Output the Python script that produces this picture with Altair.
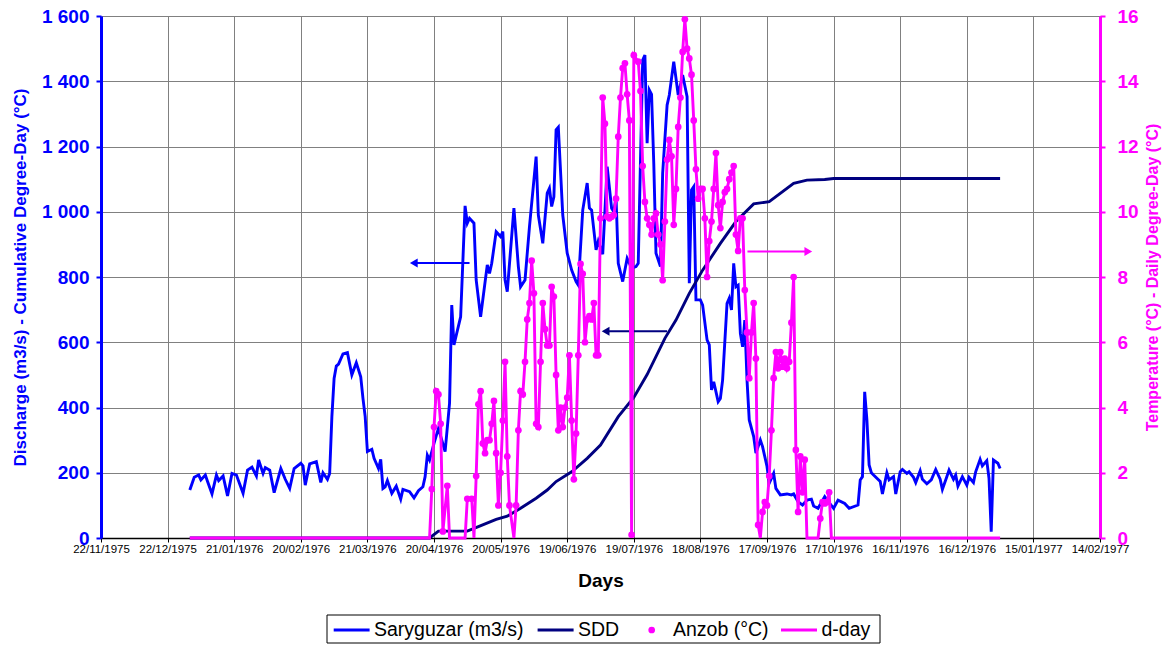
import altair as alt
import pandas as pd

# ---------------- data (day index within 1976, 0 = 01/01/1976) ----------------
sary_day = [0, 2, 4, 5, 7, 8, 10, 12, 13, 15, 17, 19, 21, 24, 26, 28, 30, 31, 33, 34, 36, 38, 41, 43, 45, 47,
            50, 51, 52, 54, 57, 59, 60, 62, 63, 64, 65, 66, 67, 69, 71, 73, 75, 77, 78, 79, 80, 82, 83, 85, 86,
            87, 88, 89, 91, 93, 95, 96, 99, 101, 103, 105, 106, 107, 108, 110, 112, 115, 117, 118, 119, 122, 124,
            125, 126, 128, 129, 131, 134, 135, 136, 138, 140, 141, 142, 143, 146, 148, 149, 151, 153, 156, 157,
            159, 161, 162, 163, 164, 165, 166, 168, 170, 172, 174, 175, 177, 179, 180, 181, 183, 184, 186, 188,
            190, 191, 192, 193, 195, 197, 199, 201, 202, 204, 205, 206, 207, 208, 209, 210, 212, 213, 215, 216,
            218, 220, 222, 224, 225, 226, 227, 228, 230, 231, 233, 234, 235, 236, 238, 239, 240, 242, 243, 244,
            245, 246, 247, 248, 249, 250, 251, 252, 254, 255, 257, 258, 260, 261, 263, 264, 266, 269, 271, 272,
            274, 276, 278, 280, 281, 283, 286, 288, 290, 292, 295, 297, 301, 302, 303, 304, 305, 306, 307, 308,
            311, 312, 314, 315, 317, 318, 320, 321, 323, 324, 326, 327, 329, 330, 332, 334, 336, 338, 339, 341,
            342, 344, 345, 346, 348, 350, 351, 353, 354, 356, 357, 359, 360, 361, 362, 364, 365]
sary_val = [147, 186, 193, 178, 193, 173, 135, 193, 176, 190, 129, 198, 193, 137, 208, 217, 190, 239, 198, 216,
            208, 139, 213, 180, 152, 213, 229, 221, 162, 227, 234, 170, 200, 180, 198, 372, 489, 527, 533, 564,
            568, 500, 537, 494, 428, 372, 265, 272, 244, 213, 241, 152, 157, 176, 137, 159, 119, 149, 142, 123,
            145, 157, 188, 254, 239, 290, 336, 265, 413, 714, 592, 678, 1018, 965, 980, 965, 791, 678, 837, 811,
            842, 939, 924, 939, 791, 755, 1011, 832, 770, 791, 954, 1169, 990, 903, 1057, 1072, 1016, 1046, 1251,
            1259, 990, 873, 821, 786, 775, 1005, 1088, 1011, 1005, 883, 910, 870, 1138, 1011, 1000, 1046, 842,
            786, 857, 827, 832, 842, 1465, 1480, 1210, 1373, 1360, 1148, 873, 832, 1118, 1327, 1358, 1460, 1358,
            1419, 1353, 781, 1067, 1077, 730, 730, 714, 607, 592, 454, 479, 418, 428, 484, 719, 735, 699, 842,
            770, 775, 627, 586, 668, 484, 362, 311, 260, 300, 280, 219, 168, 198, 152, 132, 135, 132, 135, 111,
            101, 116, 119, 98, 91, 127, 108, 91, 116, 106, 91, 101, 178, 188, 448, 362, 224, 200, 193, 173, 135,
            200, 178, 188, 135, 203, 210, 198, 203, 186, 170, 206, 180, 166, 178, 210, 180, 149, 188, 208, 180,
            193, 159, 188, 162, 186, 170, 203, 241, 221, 237, 183, 19, 239, 229, 213]

sdd_day = [0, 108, 112, 125, 130, 138, 143, 149, 156, 161, 165, 172, 179, 185, 193, 200, 206, 214, 219, 225,
           231, 239, 246, 254, 261, 272, 278, 286, 290, 365]
sdd_val = [0, 0, 21, 21, 35, 57, 67, 91, 122, 147, 173, 203, 244, 285, 372, 431, 501, 612, 668, 750, 821, 903,
           970, 1024, 1031, 1087, 1097, 1099, 1102, 1102]

anzob_day = [109, 110, 111, 112, 113, 114, 116, 125, 127, 129, 130, 131, 132, 133, 134, 135, 136, 137, 138, 139,
             140, 141, 142, 143, 144, 147, 148, 149, 150, 151, 152, 153, 154, 155, 156, 157, 158, 159, 160, 161,
             162, 163, 164, 165, 166, 167, 168, 169, 170, 171, 172, 173, 174, 175, 176, 177, 178, 179, 180, 181,
             182, 183, 184, 185, 186, 187, 188, 189, 190, 191, 192, 193, 194, 195, 196, 197, 198, 199, 200, 202,
             203, 204, 205, 206, 207, 208, 209, 210, 211, 212, 213, 214, 215, 216, 217, 218, 219, 220, 221, 222,
             223, 224, 225, 226, 227, 228, 229, 230, 231, 232, 233, 234, 235, 236, 237, 238, 239, 240, 241, 242,
             243, 244, 245, 246, 247, 248, 249, 250, 251, 252, 253, 254, 255, 256, 258, 259, 260, 261, 262, 263,
             264, 265, 266, 267, 268, 269, 270, 271, 272, 273, 274, 275, 276, 277, 284, 285, 286, 287, 288]
anzob_val = [1.5, 3.4, 4.5, 4.4, 3.5, 0.2, 1.6, 1.2, 1.2, 1.9, 4.1, 4.5, 2.9, 2.6, 3.0, 3.0, 3.5, 4.2, 2.6, 1.0,
             2.0, 3.6, 5.4, 2.5, 1.0, 1.0, 3.3, 4.5, 4.4, 5.4, 6.7, 7.2, 8.5, 7.5, 3.5, 3.4, 5.4, 7.2, 6.4, 5.9,
             5.9, 7.7, 7.4, 5.0, 3.3, 4.0, 3.4, 4.0, 4.3, 5.6, 3.6, 1.8, 3.2, 5.6, 8.4, 8.1, 6.0, 6.7, 6.8, 6.7,
             7.2, 5.6, 5.6, 9.8, 13.5, 12.7, 9.85, 9.8, 9.85, 9.9, 10.4, 12.3, 13.5, 14.4, 14.55, 13.6, 12.8, 0.1,
             14.8, 14.6, 13.7, 11.4, 10.3, 9.8, 9.6, 9.3, 9.8, 9.95, 9.3, 9.0, 7.9, 9.7, 11.6, 12.2, 11.7, 9.6,
             10.7, 12.6, 13.5, 14.9, 15.9, 15.0, 14.7, 14.2, 12.8, 11.3, 10.4, 10.7, 10.7, 9.8, 8.0, 9.1, 9.7,
             10.7, 11.8, 10.2, 9.5, 10.3, 10.6, 10.7, 11.0, 11.2, 11.4, 9.3, 8.8, 9.8, 9.8, 7.6, 6.3, 4.9, 6.3,
             7.2, 5.5, 0.4, 0.8, 1.1, 1.0, 1.9, 3.3, 4.9, 5.7, 5.2, 5.7, 5.25, 5.5, 5.2, 5.4, 6.6, 8.0, 2.7, 0.8,
             2.5, 1.4, 2.4, 0.6, 1.1, 1.06, 1.1, 1.4]

# days on which the daily degree-day is zero (temperature below zero)
dday_zero_day = [0, 108, 117, 124, 128, 146, 257, 278, 283, 289, 365]

x_tick_days = list(range(0, 451, 30))          # days after 22/11/1975
left_ticks = list(range(0, 1601, 200))
right_ticks = list(range(0, 17, 2))

# annotation arrows (day of 1976, value)
arrow_blue = {"tail": [126], "head": [100.9], "v": [843]}
arrow_navy = {"tail": [215], "head": [187.3], "v": [634]}
arrow_mag = {"tail": [251.2], "head": [278.6], "v": [8.78]}

OFFSET = 40  # 22/11/1975 -> 01/01/1976

BLUE = "#0000FF"
NAVY = "#000080"
MAG = "#FF00FF"
FONT = "Liberation Sans"

sary_df = pd.DataFrame({"d": [OFFSET + d for d in sary_day], "v": sary_val})
sdd_df = pd.DataFrame({"d": [OFFSET + d for d in sdd_day], "v": sdd_val})
anzob_df = pd.DataFrame({"d": [OFFSET + d for d in anzob_day], "v": anzob_val})
dd = {d: 0.0 for d in dday_zero_day}
for d, v in zip(anzob_day, anzob_val):
    dd[d] = v
dday_df = pd.DataFrame(sorted(dd.items()), columns=["d", "v"])
dday_df["d"] = dday_df["d"] + OFFSET


def arrow_df(a):
    return pd.DataFrame({"d": [OFFSET + a["tail"][0]], "d2": [OFFSET + a["head"][0]],
                         "dh": [OFFSET + a["head"][0]], "v": a["v"]})


# ---------------- encodings ----------------
x_axis = alt.Axis(values=x_tick_days,
                  labelExpr="timeFormat(datetime(1975, 10, 22 + datum.value), '%d/%m/%Y')",
                  title="Days", titleFont=FONT, titleFontSize=19, titleFontWeight="bold", titleColor="black",
                  labelFont=FONT, labelFontSize=11.5, labelColor="black", labelFlush=False, labelOverlap=False,
                  grid=True, gridColor="#808080", gridWidth=1,
                  domainColor="black", domainWidth=1.5, tickColor="black", tickSize=4,
                  labelPadding=1, titlePadding=17)
X = alt.X("d:Q", scale=alt.Scale(domain=[0, 450], nice=False, zero=False), axis=x_axis)
XH = alt.X("dh:Q", scale=alt.Scale(domain=[0, 450], nice=False, zero=False), axis=x_axis)

yl_axis = alt.Axis(values=left_ticks, orient="left",
                   labelExpr="replace(format(datum.value, ','), ',', ' ')",
                   title="Discharge (m3/s) - Cumulative Degree-Day (°C)",
                   titleFont=FONT, titleFontSize=17, titleFontWeight="bold", titleColor=BLUE,
                   labelFont=FONT, labelFontSize=19, labelFontWeight="bold", labelColor=BLUE,
                   labelOverlap=False, domainColor=BLUE, domainWidth=3, tickColor=BLUE, tickWidth=2,
                   tickSize=5, labelPadding=7, titlePadding=12,
                   grid=True, gridColor="#808080", gridWidth=1)
YL = alt.Y("v:Q", scale=alt.Scale(domain=[0, 1600], nice=False), axis=yl_axis)

yr_axis = alt.Axis(values=right_ticks, orient="right",
                   title="Temperature (°C) -  Daily Degree-Day (°C)",
                   titleFont=FONT, titleFontSize=16, titleFontWeight="bold", titleColor=MAG,
                   titleAngle=270, titleBaseline="top",
                   labelFont=FONT, labelFontSize=19, labelFontWeight="bold", labelColor=MAG,
                   labelOverlap=False, domainColor=MAG, domainWidth=3, tickColor=MAG, tickWidth=2,
                   tickSize=5, labelPadding=12, titlePadding=6, grid=False)
YR = alt.Y("v:Q", scale=alt.Scale(domain=[0, 16], nice=False), axis=yr_axis)

# ---------------- left group ----------------
sary_line = alt.Chart(sary_df).mark_line(color=BLUE, strokeWidth=2.9).encode(x=X, y=YL)
sdd_line = alt.Chart(sdd_df).mark_line(color=NAVY, strokeWidth=2.9).encode(x=X, y=YL)

ab = arrow_df(arrow_blue)
an = arrow_df(arrow_navy)
am = arrow_df(arrow_mag)

blue_rule = alt.Chart(ab).mark_rule(color=BLUE, strokeWidth=2).encode(x=X, x2="d2:Q", y=YL)
blue_head = alt.Chart(ab).mark_point(shape="triangle-left", filled=True, opacity=1, size=80,
                                      color=BLUE).encode(x=XH, y=YL)
navy_rule = alt.Chart(an).mark_rule(color=NAVY, strokeWidth=2).encode(x=X, x2="d2:Q", y=YL)
navy_head = alt.Chart(an).mark_point(shape="triangle-left", filled=True, opacity=1, size=80,
                                      color=NAVY).encode(x=XH, y=YL)

left = alt.layer(sary_line, sdd_line, blue_rule, blue_head, navy_rule, navy_head)

# ---------------- right group ----------------
dday_line = alt.Chart(dday_df).mark_line(color=MAG, strokeWidth=2.9).encode(x=X, y=YR)
anzob_pts = alt.Chart(anzob_df).mark_circle(color=MAG, size=45, opacity=1).encode(x=X, y=YR)
mag_rule = alt.Chart(am).mark_rule(color=MAG, strokeWidth=2).encode(x=X, x2="d2:Q", y=YR)
mag_head = alt.Chart(am).mark_point(shape="triangle-right", filled=True, opacity=1, size=80,
                                     color=MAG).encode(x=XH, y=YR)

right = alt.layer(dday_line, anzob_pts, mag_rule, mag_head)

# ---------------- legend (drawn manually below plot) ----------------
one = pd.DataFrame({"k": [0]})
LY = 614
leg_box = alt.Chart(one).mark_rect(fill="white", stroke="black", strokeWidth=1).encode(
    x=alt.value(226), x2=alt.value(779), y=alt.value(599), y2=alt.value(627))
leg_items = [leg_box]
for x1, x2, col in [(232.7, 268.6, BLUE), (436.6, 472.6, NAVY), (680, 716, MAG)]:
    leg_items.append(alt.Chart(one).mark_rule(color=col, strokeWidth=2.9).encode(
        x=alt.value(x1), x2=alt.value(x2), y=alt.value(LY)))
leg_items.append(alt.Chart(one).mark_circle(color=MAG, size=45, opacity=1).encode(
    x=alt.value(550.7), y=alt.value(LY)))
for xt, txt in [(273, "Saryguzar (m3/s)"), (477, "SDD"), (572, "Anzob (°C)"), (720.5, "d-day")]:
    leg_items.append(alt.Chart(one).mark_text(align="left", baseline="middle", font=FONT, fontSize=19.5,
                                               color="black").encode(
        x=alt.value(xt), y=alt.value(LY), text=alt.value(txt)))

chart = alt.layer(left, right, *leg_items).resolve_scale(y="independent").properties(
    width=999, height=522,
    autosize=alt.AutoSizeParams(type="none"),
    padding={"left": 93, "top": 8, "right": 62, "bottom": 107},
).configure_view(stroke=None).configure(font=FONT, background="white")

chart.save("out.html", embed_options={"renderer": "svg", "actions": False})
